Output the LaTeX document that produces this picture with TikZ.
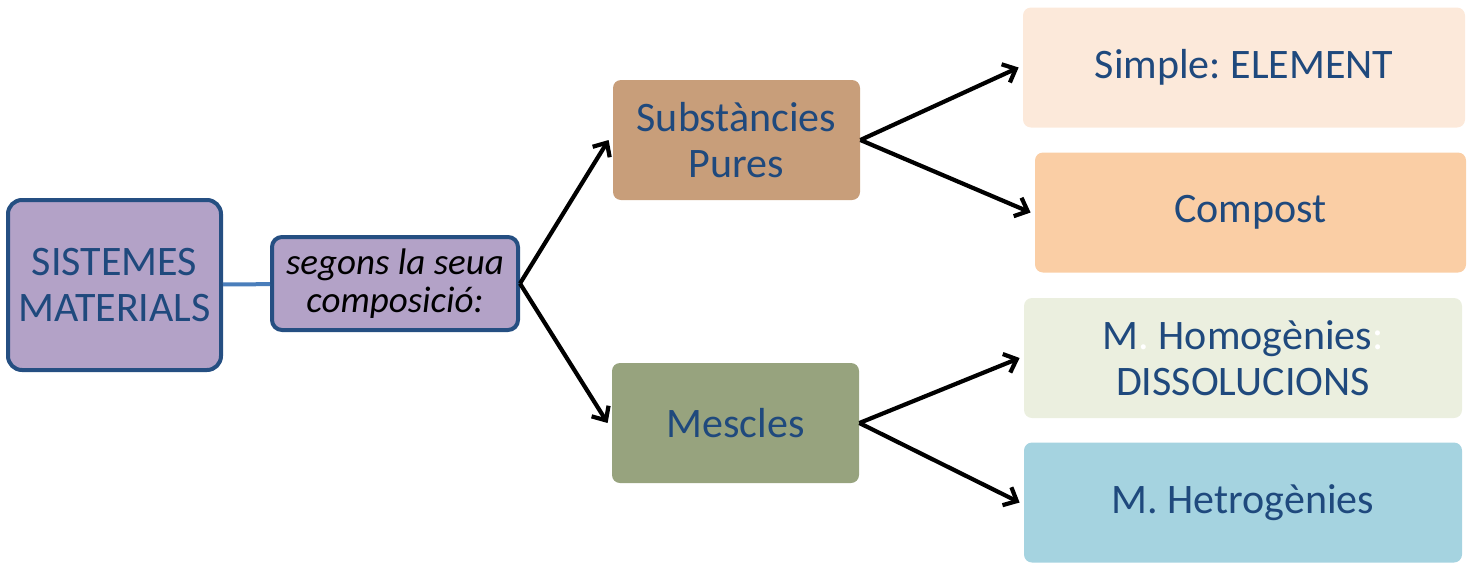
\documentclass[tikz,border=0pt]{standalone}
\usepackage{fontspec}
\setmainfont{Carlito}
\usetikzlibrary{arrows.meta}
\frenchspacing
\definecolor{txtblue}{HTML}{1F497D}
\definecolor{edgeblue}{HTML}{254F82}
\definecolor{linkblue}{HTML}{4A7EBB}
\definecolor{lila}{HTML}{B3A2C7}
\definecolor{tan}{HTML}{C89E7A}
\definecolor{olive}{HTML}{97A37E}
\definecolor{peachlt}{HTML}{FCE9DA}
\definecolor{peach}{HTML}{FACEA5}
\definecolor{sage}{HTML}{EBEFDF}
\definecolor{skyblue}{HTML}{A5D3E0}
\begin{document}
\begin{tikzpicture}[x=0.5pt,y=-0.5pt,
  mainbox/.style={draw=edgeblue,line width=2pt,fill=lila,rounded corners=7pt,
    align=center,text=txtblue,inner sep=0pt,font=\fontsize{21}{23}\selectfont},
  catbox/.style={fill=#1,rounded corners=4pt,align=center,text=txtblue,inner sep=0pt,
    minimum width=123.5pt,minimum height=60pt,font=\fontsize{21}{23}\selectfont},
  leafbox/.style={catbox=#1,minimum width=219pt},
  arr/.style={line width=2.1pt,-{Straight Barb[length=5.5pt,width=10pt]}}]
     \useasboundingbox (0,0) rectangle (1474,563);
     \node[mainbox,minimum width=106.5pt,minimum height=85pt] (sist) at (114.5,285) {SISTEMES\\MATERIALS};
     \node[mainbox,minimum width=123pt,minimum height=46.5pt,rounded corners=5pt,text=black,
       font=\fontsize{18.5}{19}\selectfont\itshape] (seg) at (395,283.5) {segons la seua\\composició:};
     \node[catbox=tan] (sub) at (736.5,140) {Substàncies\\Pures};
     \node[catbox=olive] (mes) at (735.5,423) {Mescles};
     \node[leafbox=peachlt,minimum width=221pt] (simp) at (1244,67.5) {Simple: ELEMENT};
     \node[leafbox=peach,minimum width=215.5pt] (comp) at (1250.5,212.5) {Compost};
     \node[leafbox=sage] (hom) at (1243,358) {M\textcolor{white}{.} Homogènies\textcolor{white}{:}\\DISSOLUCIONS};
     \node[leafbox=skyblue] (het) at (1243,502.5) {M. Hetrogènies};
     \draw[linkblue,line width=2pt] (sist) -- (seg);
     \foreach \a/\b in {seg/sub,seg/mes,sub/simp,sub/comp,mes/hom,mes/het}
       \draw[arr] (\a.east) -- ([xshift=-2pt]\b.west);
\end{tikzpicture}
\end{document}
